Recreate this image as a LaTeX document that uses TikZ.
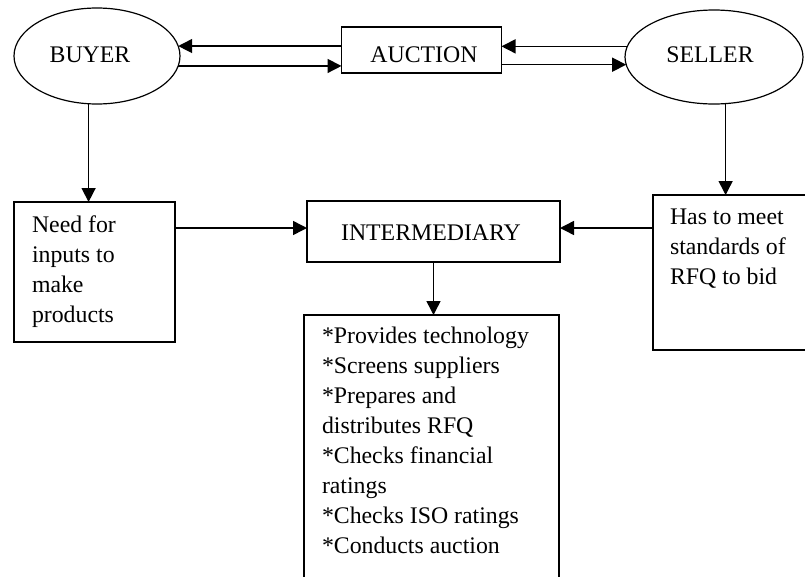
\documentclass[tikz,border=0pt]{standalone}
\usepackage{fontspec}
\setmainfont{Liberation Serif}
\usetikzlibrary{arrows.meta,shapes.geometric}

\begin{document}
\begin{tikzpicture}[x=1pt,y=-1pt,
  every node/.style={inner sep=0pt, outer sep=0pt},
  txt/.style={font=\fontsize{23.8}{30}\selectfont, text=black},
  oval/.style={draw, ellipse, line width=1.2pt},
  boxnode/.style={draw, rectangle, line width=1.3pt},
  arr/.style={line width=1.5pt, -{Triangle[length=14pt,width=14pt]}}
]
\useasboundingbox (0,0) rectangle (805,576);
\clip (0,0) rectangle (805,576);

% top row: buyer, auction, seller
\node[oval, minimum width=166pt, minimum height=96pt] (buyer) at (97,56) {};
\node[txt] (buyerlbl) at (90,55) {BUYER};
\node[boxnode, minimum width=160pt, minimum height=46pt] (auction) at (421.5,50) {};
\node[txt] (auctionlbl) at (424,54.5) {AUCTION};
\node[oval, minimum width=178pt, minimum height=94pt] (seller) at (714,57) {};
\node[txt] (sellerlbl) at (710,55) {SELLER};

% middle row
\node[boxnode, minimum width=161pt, minimum height=140pt] (need) at (94.5,272) {};
\node[txt, anchor=north west, align=left] (needlbl) at (32,216)
  {Need for\\inputs to\\make\\products};
\node[boxnode, minimum width=253pt, minimum height=61pt] (inter) at (433.5,231.5) {};
\node[txt] (interlbl) at (431,233) {INTERMEDIARY};
\node[boxnode, minimum width=153pt, minimum height=155pt] (req) at (729.5,272.5) {};
\node[txt, anchor=north west, align=left] (reqlbl) at (670,209)
  {Has to meet\\standards of\\RFQ to bid};

% duties of the intermediary
\node[boxnode, minimum width=255pt, minimum height=280pt] (list) at (431.5,455) {};
\node[txt, anchor=north west, align=left] (listlbl) at (322,327)
  {*Provides technology\\*Screens suppliers\\*Prepares and\\distributes RFQ\\*Checks financial\\ratings\\*Checks ISO ratings\\*Conducts auction};

\coordinate (midrow) at (0,228);

% connectors
\draw[arr] (auction.west |- buyer.7) -- (buyer.7);
\draw[arr] (buyer.-7) -- (auction.west |- buyer.-7);
\draw[arr] (seller.173) -- (auction.east |- seller.173);
\draw[arr] (auction.east |- seller.185) -- (seller.185);
\draw[arr] (buyer.260) -- (need.north -| buyer.260);
\draw[arr] (seller.284) -- (req.north -| seller.284);
\draw[arr] (need.east |- midrow) -- (inter.west |- midrow);
\draw[arr] (req.west |- midrow) -- (inter.east |- midrow);
\draw[arr] (inter.south) -- (list.north -| inter.south);
\end{tikzpicture}
\end{document}
